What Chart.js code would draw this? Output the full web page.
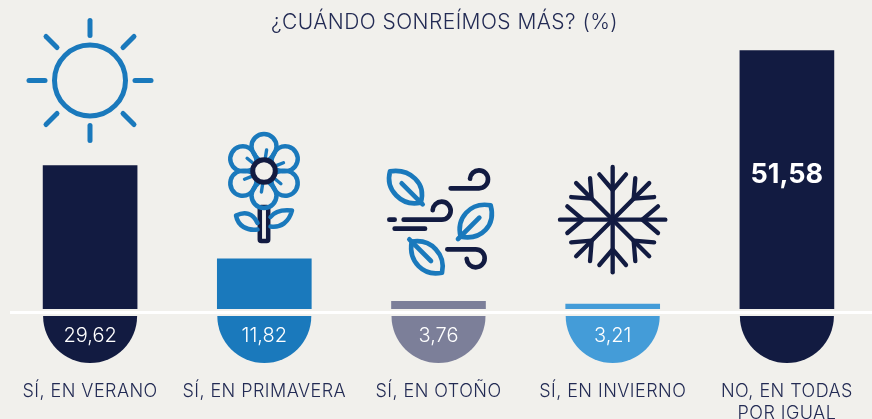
<!DOCTYPE html>
<html lang="es">
<head>
<meta charset="utf-8">
<title>¿Cuándo sonreímos más?</title>
<style>
html,body{margin:0;padding:0;background:#f1f0ec;overflow:hidden;width:872px;height:419px}
canvas{display:block}
</style>
<script src="https://cdn.jsdelivr.net/npm/chart.js@4/dist/chart.umd.min.js"></script>
</head>
<body>
<canvas id="c" width="888" height="425" style="width:888px;height:425px"></canvas>
<script>
const chartTitle = '¿CUÁNDO SONREÍMOS MÁS? (%)';
const categories = [['SÍ, EN VERANO'], ['SÍ, EN PRIMAVERA'], ['SÍ, EN OTOÑO'], ['SÍ, EN INVIERNO'], ['NO, EN TODAS', 'POR IGUAL']];
const values = [29.62, 11.82, 3.76, 3.21, 51.58];
const barColors = ['#121b41', '#1a79bc', '#7c7f99', '#449cd8', '#121b41'];

const BG = '#f1f0ec', NAVY = '#121b41', BLUE = '#1a79bc', TEXT = '#232b54';
const FONT = 'Inter, "Open Sans", sans-serif';
const fmt = v => v.toFixed(2).replace('.', ',');

function line(ctx, pts) {
  ctx.beginPath();
  pts.forEach((p, i) => i ? ctx.lineTo(p[0], p[1]) : ctx.moveTo(p[0], p[1]));
  ctx.stroke();
}

function drawSun(ctx) {
  ctx.save();
  ctx.translate(90, 80.5);
  ctx.strokeStyle = BLUE; ctx.lineWidth = 5; ctx.lineCap = 'round';
  ctx.beginPath(); ctx.arc(0, 0, 35.5, 0, Math.PI * 2); ctx.stroke();
  [[0, -60, 0, -45], [0, 45, 0, 60], [-61, 0, -45, 0], [45, 0, 61, 0],
   [-44, -44, -33, -33], [44, -44, 33, -33], [-44, 44, -33, 33], [44, 44, 33, 33]]
    .forEach(r => line(ctx, [[r[0], r[1]], [r[2], r[3]]]));
  ctx.restore();
}

function drawFlower(ctx) {
  ctx.save();
  ctx.translate(264, 171);
  ctx.lineCap = 'round'; ctx.lineJoin = 'round';
  // stem
  ctx.strokeStyle = NAVY; ctx.lineWidth = 4.5;
  ctx.beginPath(); ctx.roundRect(-4.2, 36, 8.4, 34, 1.5); ctx.stroke();
  // leaves
  ctx.strokeStyle = BLUE; ctx.lineWidth = 4.5;
  ctx.beginPath();
  ctx.moveTo(-6.5, 52);
  ctx.bezierCurveTo(-11, 42, -19, 40, -28, 44.5);
  ctx.bezierCurveTo(-26, 55, -17, 60, -6.5, 58.5);
  ctx.stroke();
  ctx.beginPath();
  ctx.moveTo(6.5, 46);
  ctx.bezierCurveTo(11, 40, 19, 38.5, 28, 39.5);
  ctx.bezierCurveTo(25, 51, 17, 57, 6.5, 55.5);
  ctx.stroke();
  // petals
  for (let i = 0; i < 6; i++) {
    ctx.save();
    ctx.rotate(i * Math.PI / 3);
    ctx.strokeStyle = BLUE; ctx.lineWidth = 4.5;
    ctx.beginPath();
    ctx.moveTo(-3, -10);
    ctx.bezierCurveTo(-8, -13, -12.5, -19, -12.5, -24.5);
    ctx.arc(0, -24.5, 12.5, Math.PI, 0);
    ctx.bezierCurveTo(12.5, -19, 8, -13, 3, -10);
    ctx.stroke();
    ctx.lineWidth = 3.4;
    line(ctx, [[1.5, -14], [2.6, -21]]);
    ctx.restore();
  }
  // centre
  ctx.fillStyle = BG; ctx.strokeStyle = NAVY; ctx.lineWidth = 5;
  ctx.beginPath(); ctx.arc(0, 0, 11.3, 0, Math.PI * 2); ctx.fill(); ctx.stroke();
  ctx.restore();
}

function drawWind(ctx) {
  ctx.save();
  ctx.translate(370, 150); ctx.scale(1 / 3, 1 / 3);
  ctx.lineCap = 'round'; ctx.lineJoin = 'round'; ctx.lineWidth = 14;
  ctx.strokeStyle = NAVY;
  ctx.beginPath(); ctx.moveTo(242, 115); ctx.lineTo(327, 115);
  ctx.arc(327, 88, 27, Math.PI / 2, Math.PI * 1.02, true); ctx.stroke();
  ctx.beginPath(); ctx.moveTo(101, 209); ctx.lineTo(215, 209);
  ctx.arc(215, 182, 27, Math.PI / 2, Math.PI * 1.02, true); ctx.stroke();
  line(ctx, [[58, 209], [74, 209]]);
  line(ctx, [[74, 236], [165, 236]]);
  ctx.beginPath(); ctx.moveTo(232, 298); ctx.lineTo(317, 298);
  ctx.arc(317, 325, 27, -Math.PI / 2, Math.PI * 0.98, false); ctx.stroke();
  ctx.strokeStyle = BLUE;
  ctx.beginPath(); ctx.moveTo(60, 64);
  ctx.bezierCurveTo(120, 55, 170, 100, 152, 158);
  ctx.bezierCurveTo(95, 170, 45, 120, 60, 64); ctx.stroke();
  line(ctx, [[95, 100], [158, 163]]);
  ctx.beginPath(); ctx.moveTo(362, 166);
  ctx.bezierCurveTo(300, 155, 258, 205, 272, 260);
  ctx.bezierCurveTo(335, 272, 378, 225, 362, 166); ctx.stroke();
  line(ctx, [[328, 203], [264, 267]]);
  ctx.beginPath(); ctx.moveTo(125, 275);
  ctx.bezierCurveTo(115, 335, 160, 380, 216, 368);
  ctx.bezierCurveTo(228, 315, 185, 265, 125, 275); ctx.stroke();
  line(ctx, [[118, 268], [183, 333]]);
  ctx.restore();
}

function drawSnow(ctx) {
  ctx.save();
  ctx.translate(370 + 728 / 3, 150 + 209 / 3); ctx.scale(1 / 3, 1 / 3);
  ctx.strokeStyle = NAVY; ctx.lineWidth = 13; ctx.lineCap = 'round'; ctx.lineJoin = 'round';
  for (let i = 0; i < 8; i++) {
    ctx.save();
    ctx.rotate(i * Math.PI / 4);
    line(ctx, [[0, 0], [0, i % 2 ? -155 : -158]]);
    line(ctx, [[-40, -136], [0, -89], [40, -136]]);
    ctx.restore();
  }
  ctx.restore();
}

const decorPlugin = {
  id: 'decor',
  afterLayout(chart) {
    // the title sits a little right of the plot's centre
    if (chart.titleBlock) chart.titleBlock.left += 12;
  },
  beforeDraw(chart) {
    const ctx = chart.ctx;
    ctx.save();
    ctx.fillStyle = BG;
    ctx.fillRect(0, 0, chart.width, chart.height);
    ctx.restore();
    ctx.letterSpacing = '0.45px';
  },
  afterDatasetsDraw(chart) {
    const ctx = chart.ctx;
    const bars = chart.getDatasetMeta(0).data;
    const bandTop = 309, capTop = 316, r = 47;
    ctx.save();
    ctx.fillStyle = BG;
    ctx.fillRect(0, bandTop, chart.width, chart.scales.y.bottom - bandTop + 2);
    bars.forEach((b, i) => {
      ctx.fillStyle = barColors[i];
      ctx.beginPath();
      ctx.arc(b.x, capTop, r, 0, Math.PI);
      ctx.closePath();
      ctx.fill();
    });
    ctx.fillStyle = '#ffffff';
    ctx.fillRect(10, 311, chart.width, 3);
    ctx.textAlign = 'center'; ctx.textBaseline = 'middle';
    ctx.letterSpacing = '0px';
    bars.forEach((b, i) => {
      if (i === values.length - 1) {
        ctx.font = '700 27px ' + FONT;
        ctx.fillText(fmt(values[i]), b.x, 175);
      } else {
        ctx.font = '300 20px ' + FONT;
        ctx.fillText(fmt(values[i]), b.x, 336);
      }
    });
    ctx.restore();
    drawSun(ctx); drawFlower(ctx); drawWind(ctx); drawSnow(ctx);
  }
};

new Chart(document.getElementById('c'), {
  type: 'bar',
  data: {
    labels: categories,
    datasets: [{ data: values, backgroundColor: barColors, borderWidth: 0, barThickness: 94 }]
  },
  options: {
    responsive: false,
    animation: false,
    layout: { padding: { left: 3, right: 14, top: 0, bottom: 0 } },
    plugins: {
      legend: { display: false },
      tooltip: { enabled: false },
      title: {
        display: true,
        text: chartTitle,
        color: TEXT,
        font: { family: FONT, size: 21, weight: '300', lineHeight: 1.2 },
        padding: { top: 10, bottom: 15 }
      }
    },
    scales: {
      x: {
        grid: { display: false, drawOnChartArea: false, drawTicks: true, tickLength: 59, tickColor: 'rgba(0,0,0,0)' },
        border: { display: false },
        ticks: {
          color: TEXT,
          font: { family: FONT, size: 18, weight: '300', lineHeight: 1.25 },
          padding: 0,
          autoSkip: false,
          maxRotation: 0,
          minRotation: 0
        }
      },
      y: { display: false, min: 0, max: 51.58 }
    }
  },
  plugins: [decorPlugin]
});
</script>
</body>
</html>
